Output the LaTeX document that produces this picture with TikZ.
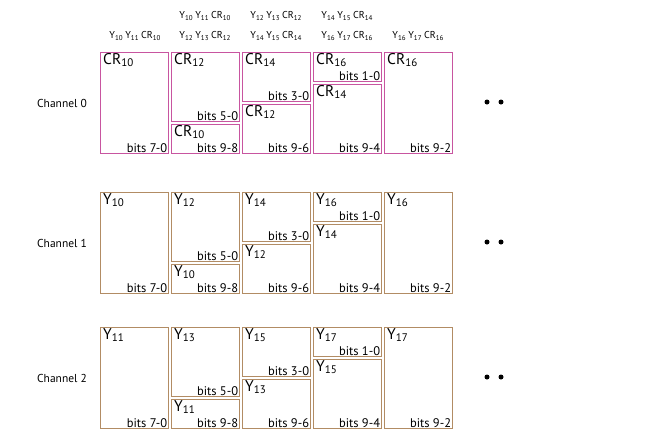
\documentclass[tikz,border=0pt]{standalone}
\usepackage{fontspec}
\setmainfont{PT Sans}
\usepackage{tikz}
\usetikzlibrary{positioning}
\definecolor{chanpink}{RGB}{200, 85, 160}
\definecolor{chanbrown}{RGB}{178, 140, 100}

\newcommand{\sig}[2]{{\fontsize{15.5}{15.5}\selectfont #1}\raisebox{-2.5pt}{\fontsize{11}{11}\selectfont #2}}
\newcommand{\hsig}[2]{#1\raisebox{-1.5pt}{\fontsize{7}{7}\selectfont #2}}

\begin{document}
\begin{tikzpicture}[
    x=1pt, y=-1pt,
    cell/.style={rectangle, draw=#1, line width=1.3pt, anchor=north west, inner sep=0pt, minimum width=68pt},
    siglab/.style={inner sep=1pt},
    bitslab/.style={inner sep=1pt, font=\fontsize{12.5}{12.5}\selectfont},
    chanlab/.style={font=\fontsize{11.5}{11.5}\selectfont},
    headlab/.style={font=\fontsize{10}{10}\selectfont},
    dot/.style={circle, fill=black, inner sep=0pt, minimum size=5pt}
]
\useasboundingbox (0,0) rectangle (660,440);

% Header
\node[headlab] (h1b) at (205,16) {\hsig{Y}{10} \hsig{Y}{11} \hsig{CR}{10}};
\node[headlab] (h1c) at (276,16) {\hsig{Y}{12} \hsig{Y}{13} \hsig{CR}{12}};
\node[headlab] (h1d) at (347,16) {\hsig{Y}{14} \hsig{Y}{15} \hsig{CR}{14}};
\node[headlab] (h2a) at (135,36) {\hsig{Y}{10} \hsig{Y}{11} \hsig{CR}{10}};
\node[headlab] (h2b) at (205,36) {\hsig{Y}{12} \hsig{Y}{13} \hsig{CR}{12}};
\node[headlab] (h2c) at (276,36) {\hsig{Y}{14} \hsig{Y}{15} \hsig{CR}{14}};
\node[headlab] (h2d) at (347,36) {\hsig{Y}{16} \hsig{Y}{17} \hsig{CR}{16}};
\node[headlab] (h2e) at (418,36) {\hsig{Y}{16} \hsig{Y}{17} \hsig{CR}{16}};

% Channels
\foreach \r/\top/\clr/\lt/\ia/\ib/\ic/\id in {0/52/chanpink/CR/10/12/14/16, 1/192/chanbrown/Y/10/12/14/16, 2/327/chanbrown/Y/11/13/15/17}{
  \node[chanlab] (ch\r) at (62,\top+51) {Channel \r};

  % column 1
  \node[cell=\clr, minimum height=101pt] (a\r) at (100,\top) {};
  % column 2
  \node[cell=\clr, minimum height=69pt] (b\r) at (171,\top) {};
  \node[cell=\clr, minimum height=29pt] (bb\r) at (171,\top+72) {};
  % column 3
  \node[cell=\clr, minimum height=49pt] (c\r) at (242,\top) {};
  \node[cell=\clr, minimum height=49pt] (cc\r) at (242,\top+52) {};
  % column 4
  \node[cell=\clr, minimum height=29pt] (d\r) at (313,\top) {};
  \node[cell=\clr, minimum height=69pt] (dd\r) at (313,\top+32) {};
  % column 5
  \node[cell=\clr, minimum height=101pt] (e\r) at (384,\top) {};

  % names
  \node[siglab, below right=0pt and 2pt of a\r.north west] {\sig{\lt}{\ia}};
  \node[siglab, below right=0pt and 2pt of b\r.north west] {\sig{\lt}{\ib}};
  \node[siglab, below right=0pt and 2pt of bb\r.north west] {\sig{\lt}{\ia}};
  \node[siglab, below right=0pt and 2pt of c\r.north west] {\sig{\lt}{\ic}};
  \node[siglab, below right=0pt and 2pt of cc\r.north west] {\sig{\lt}{\ib}};
  \node[siglab, below right=0pt and 2pt of d\r.north west] {\sig{\lt}{\id}};
  \node[siglab, below right=0pt and 2pt of dd\r.north west] {\sig{\lt}{\ic}};
  \node[siglab, below right=0pt and 2pt of e\r.north west] {\sig{\lt}{\id}};

  % bit ranges
  \node[bitslab, above left=0pt and 1pt of a\r.south east] {bits 7-0};
  \node[bitslab, above left=0pt and 1pt of b\r.south east] {bits 5-0};
  \node[bitslab, above left=0pt and 1pt of bb\r.south east] {bits 9-8};
  \node[bitslab, above left=0pt and 1pt of c\r.south east] {bits 3-0};
  \node[bitslab, above left=0pt and 1pt of cc\r.south east] {bits 9-6};
  \node[bitslab, above left=0pt and 1pt of d\r.south east] {bits 1-0};
  \node[bitslab, above left=0pt and 1pt of dd\r.south east] {bits 9-4};
  \node[bitslab, above left=0pt and 1pt of e\r.south east] {bits 9-2};

  % continuation
  \node[dot] (dl\r) at (487,\top+50) {};
  \node[dot] (dr\r) at (501,\top+50) {};
}
\end{tikzpicture}
\end{document}
